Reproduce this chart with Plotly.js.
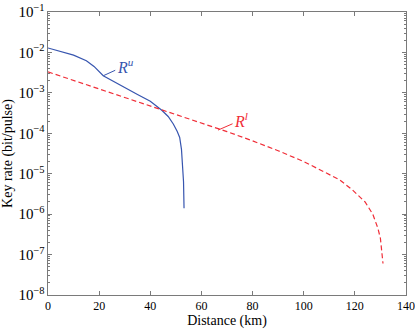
<!DOCTYPE html>
<html><head><meta charset="utf-8">
<script src="https://cdn.plot.ly/plotly-3.0.1.min.js"></script>
<style>html,body{margin:0;padding:0;background:#fff}#chart{width:415px;height:330px}</style>
</head><body><div id="chart"></div>
<script>
// Upper bound R^u
const distU = [0, 5, 10, 15, 18, 21.6, 25, 30, 35, 40, 44.5, 47, 49, 50.5, 51.5, 52.2, 52.7, 53.0, 53.2];
const rateU = [0.0129, 0.0106, 0.0086, 0.0062, 0.0045, 0.00265, 0.0020, 0.00138, 9.1e-4, 6.2e-4, 3.7e-4, 2.6e-4, 1.7e-4, 1.12e-4, 7.9e-5, 4.0e-5, 1.6e-5, 6.3e-6, 1.4e-6];
// Lower bound R^l
const distL = [0, 10, 20, 30, 40, 50, 60, 70, 80, 90, 100, 107, 114, 119, 124, 127, 129, 130, 130.6, 131];
const rateL = [3.3e-3, 2.04e-3, 1.26e-3, 7.8e-4, 4.8e-4, 2.95e-4, 1.82e-4, 1.1e-4, 6.5e-5, 3.7e-5, 2.0e-5, 1.2e-5, 7.1e-6, 4.0e-6, 2.0e-6, 1.0e-6, 4.5e-7, 2.5e-7, 1.26e-7, 6.0e-8];
const xTicks = [0, 20, 40, 60, 80, 100, 120, 140];
const labelU = {text: '<i>R</i><sup><i>u</i></sup>', x: 21.6, y: 0.00265};
const labelL = {text: '<i>R</i><sup><i>l</i></sup>', x: 66.5, y: 1.2e-4};

const blue = 'rgb(55,85,175)';
const red = 'rgb(240,45,55)';
const axisCol = '#7a7a7a';
const font = 'Times New Roman';

const traces = [
  {x: distU, y: rateU, mode: 'lines', line: {color: blue, width: 1.2}, hoverinfo: 'none'},
  {x: distL, y: rateL, mode: 'lines', line: {color: red, width: 1.2, dash: '5px,3px'}, hoverinfo: 'none'}
];

const layout = {
  width: 415, height: 330,
  margin: {l: 48, r: 9, t: 12, b: 35},
  paper_bgcolor: '#fff', plot_bgcolor: '#fff',
  showlegend: false,
  font: {family: font, color: '#000', size: 12},
  xaxis: {
    range: [0, 140], tickvals: xTicks, ticktext: xTicks.map(String),
    ticks: 'inside', ticklen: 4, tickcolor: axisCol, ticklabeloverflow: 'allow',
    showline: true, linecolor: axisCol, linewidth: 1, mirror: 'allticks',
    showgrid: false, zeroline: false, automargin: false,
    tickfont: {family: font, size: 12},
    title: {text: 'Distance (km)', font: {family: font, size: 14}, standoff: 2}
  },
  yaxis: {
    type: 'log', range: [-8, -1], dtick: 1, exponentformat: 'power',
    ticks: 'inside', ticklen: 4, tickcolor: axisCol, ticklabeloverflow: 'allow',
    minor: {ticks: 'inside', ticklen: 2, tickcolor: axisCol, showgrid: false},
    showline: true, linecolor: axisCol, linewidth: 1, mirror: 'allticks',
    showgrid: false, zeroline: false, automargin: false,
    tickfont: {family: font, size: 12},
    title: {text: 'Key rate (bit/pulse)', font: {family: font, size: 14}, standoff: 2}
  },
  annotations: [
    {x: labelU.x, y: Math.log10(labelU.y), xref: 'x', yref: 'y', text: labelU.text,
     showarrow: true, arrowhead: 0, arrowwidth: 1, arrowcolor: blue, ax: 22, ay: -10,
     font: {family: font, size: 16, color: blue}},
    {x: labelL.x, y: Math.log10(labelL.y), xref: 'x', yref: 'y', text: labelL.text,
     showarrow: true, arrowhead: 0, arrowwidth: 1, arrowcolor: red, ax: 23, ay: -10,
     font: {family: font, size: 16, color: red}}
  ]
};

Plotly.newPlot('chart', traces, layout, {staticPlot: true, displayModeBar: false});
</script>
</body></html>
